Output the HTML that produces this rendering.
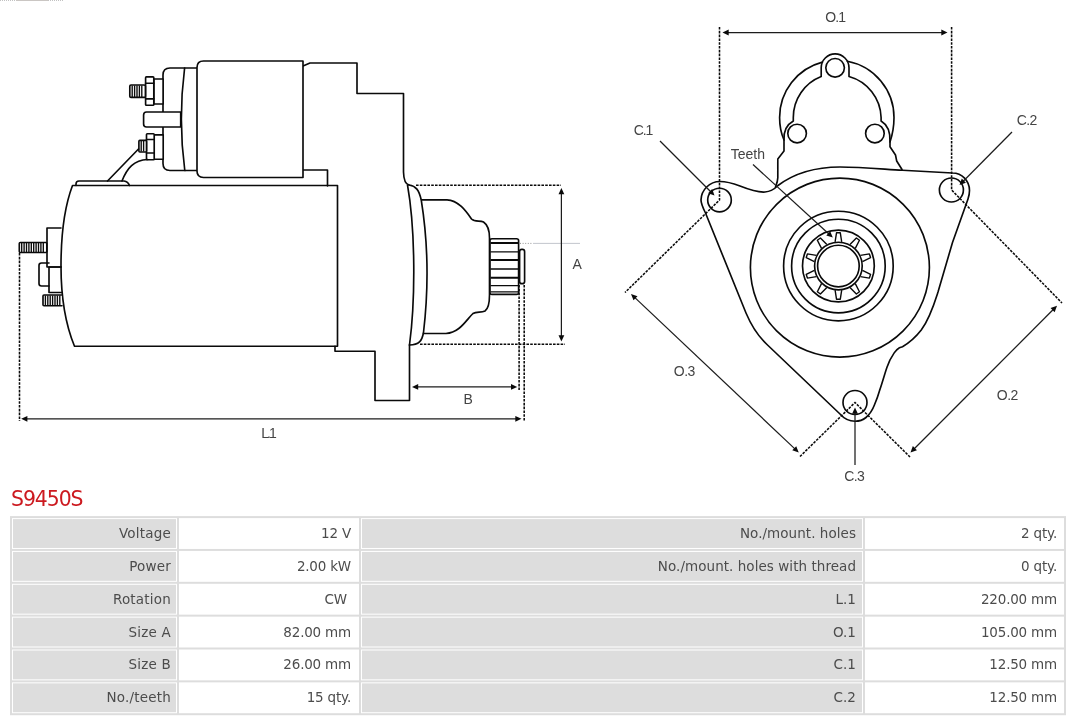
<!DOCTYPE html>
<html lang="en">
<head>
<meta charset="utf-8">
<title>S9450S</title>
<style>
html,body{margin:0;padding:0;background:#fff;}
body{will-change:transform;width:1080px;height:720px;overflow:hidden;position:relative;font-family:"DejaVu Sans","Liberation Sans",sans-serif;}
#drawing{position:absolute;left:0;top:0;width:1080px;height:486px;display:block;}
#drawing text{font-family:"Liberation Sans","DejaVu Sans",sans-serif;font-size:14px;fill:#444;}
h1{position:absolute;left:11px;top:487px;margin:0;font-size:20.4px;line-height:24px;font-weight:normal;color:#cc1a20;letter-spacing:-1.05px;}
table{position:absolute;left:10px;top:516px;transform-origin:0 0;transform:translateY(0.1px) scaleY(0.9955);width:1056px;border-collapse:separate;border-spacing:2px;background:#ddd;table-layout:fixed;font-size:13.5px;color:#4c4c4c;}
td{height:31px;padding:0 0 1px 0;line-height:30px;text-align:right;white-space:nowrap;box-sizing:border-box;overflow:hidden;}
td.l{background:#ddd;border:1px solid #fff;line-height:28px;padding-right:5px;letter-spacing:0.2px;}
td.l2{padding-right:6px;letter-spacing:0.05px;}
td.v{background:#fff;padding-right:8px;letter-spacing:-0.2px;}
td.v2{padding-right:7px;}
</style>
</head>
<body>
<svg id="drawing" width="1080" height="486" viewBox="0 0 1080 486">
<rect width="1080" height="486" fill="#fff"/>
<path d="M0,0.4H16M48,0.4H64" fill="none" stroke="#bbb" stroke-width="1" stroke-dasharray="1 1"/>
<path d="M16,0.4H48" fill="none" stroke="#c4c0bc" stroke-width="1"/>
<g id="side-view">
<path fill="none" stroke="#0a0a0a" stroke-width="1.65" stroke-linejoin="round" stroke-linecap="round" d="M303,66 L310,63 H357 V93.5 H403.5 V172 C403.7,180 405,184 409,185"/>
<path fill="none" stroke="#0a0a0a" stroke-width="1.65" stroke-linejoin="round" stroke-linecap="round" d="M303,170 H327.5 V186"/>
<path fill="none" stroke="#0a0a0a" stroke-width="1.65" stroke-linejoin="round" stroke-linecap="round" d="M197,68 H170 Q163,68 163,75 V163.5 Q163,170.5 170,170.5 H197"/>
<path fill="none" stroke="#0a0a0a" stroke-width="1.65" stroke-linejoin="round" stroke-linecap="round" d="M184.6,68 Q178,119.5 184.8,170.5"/>
<path fill="#fff" stroke="#0a0a0a" stroke-width="1.65" stroke-linejoin="round" stroke-linecap="round" d="M303,61 H203.5 Q197,61 197,67.5 V171 Q197,177.5 203.5,177.5 H303 Z"/>
<path fill="#fff" stroke="#0a0a0a" stroke-width="1.65" stroke-linejoin="round" stroke-linecap="round" d="M180.7,112 H146.5 Q143.6,112 143.6,115 V124 Q143.6,127 146.5,127 H180.7 Z"/>
<rect fill="#fff" stroke="#0a0a0a" stroke-width="1.65" stroke-linejoin="round" stroke-linecap="round" x="153.8" y="79" width="9.3" height="25"/>
<rect fill="#fff" stroke="#0a0a0a" stroke-width="1.65" stroke-linejoin="round" stroke-linecap="round" x="145.6" y="76.9" width="8.2" height="28.3" rx="0.8"/>
<path fill="none" stroke="#0a0a0a" stroke-width="1.65" stroke-linejoin="round" stroke-linecap="round" d="M145.6,83.2 H153.8 M145.6,98.8 H153.8"/>
<rect fill="#fff" stroke="#0a0a0a" stroke-width="1.65" stroke-linejoin="round" stroke-linecap="round" x="129.8" y="85" width="15.6" height="12.4" rx="1.2"/>
<path fill="none" stroke="#0a0a0a" stroke-width="1.35" d="M132.2,85.5V97M134.6,85.5V97M137,85.5V97M139.4,85.5V97M141.8,85.5V97"/>
<rect fill="#fff" stroke="#0a0a0a" stroke-width="1.65" stroke-linejoin="round" stroke-linecap="round" x="154.2" y="134.9" width="9" height="24.4"/>
<rect fill="#fff" stroke="#0a0a0a" stroke-width="1.65" stroke-linejoin="round" stroke-linecap="round" x="146.5" y="133.7" width="7.7" height="26" rx="0.8"/>
<path fill="none" stroke="#0a0a0a" stroke-width="1.65" stroke-linejoin="round" stroke-linecap="round" d="M146.5,139.5 H154.2 M146.5,153 H154.2"/>
<rect fill="#fff" stroke="#0a0a0a" stroke-width="1.65" stroke-linejoin="round" stroke-linecap="round" x="138.9" y="140.4" width="7.6" height="11.6" rx="1"/>
<path fill="none" stroke="#0a0a0a" stroke-width="1.35" d="M141.2,141V151.5M143.6,141V151.5"/>
<path fill="none" stroke="#0a0a0a" stroke-width="1.65" stroke-linejoin="round" stroke-linecap="round" d="M138.5,149 L107.5,181"/>
<path fill="none" stroke="#0a0a0a" stroke-width="1.65" stroke-linejoin="round" stroke-linecap="round" d="M147.5,159.5 C134,160 127,168 122,181"/>
<path fill="none" stroke="#0a0a0a" stroke-width="1.65" stroke-linejoin="round" stroke-linecap="round" d="M76,185.5 V184 Q76,181 79,181 H124 Q128,181.5 129.5,185.5"/>
<path fill="none" stroke="#0a0a0a" stroke-width="1.65" stroke-linejoin="round" stroke-linecap="round" d="M72.5,185.5 H337.5 V346.25 H74.5 C64.5,322 61,295 61,266 C61,237 64,208 72.5,185.5 Z"/>
<path fill="none" stroke="#0a0a0a" stroke-width="1.65" stroke-linejoin="round" stroke-linecap="round" d="M61,228 H47 V267 H61"/>
<rect fill="#fff" stroke="#0a0a0a" stroke-width="1.65" stroke-linejoin="round" stroke-linecap="round" x="19.3" y="242.5" width="27.5" height="10" rx="1"/>
<path fill="none" stroke="#0a0a0a" stroke-width="1.35" d="M21.7,243V252M24.1,243V252M26.5,243V252M28.9,243V252M31.3,243V252M33.7,243V252M36.1,243V252M38.5,243V252M40.9,243V252M43.3,243V252"/>
<path fill="none" stroke="#0a0a0a" stroke-width="1.65" stroke-linejoin="round" stroke-linecap="round" d="M49,263 H41.5 Q39,263 39,265.5 V283.5 Q39,286 41.5,286 H49"/>
<path fill="none" stroke="#0a0a0a" stroke-width="1.65" stroke-linejoin="round" stroke-linecap="round" d="M61,267 H49 V292.5 H62"/>
<path fill="#fff" stroke="#0a0a0a" stroke-width="1.65" stroke-linejoin="round" stroke-linecap="round" d="M61.5,295 H44 Q43,295 43,296 V304.75 Q43,305.75 44,305.75 H62"/>
<path fill="none" stroke="#0a0a0a" stroke-width="1.35" d="M45.4,295.5V305.25M47.8,295.5V305.25M50.2,295.5V305.25M52.6,295.5V305.25M55,295.5V305.25M57.4,295.5V305.25M59.8,295.5V305.25"/>
<path fill="none" stroke="#0a0a0a" stroke-width="1.65" stroke-linejoin="round" stroke-linecap="round" d="M335,346.25 V351.25 H375 V400.5 H409.5 V345"/>
<path fill="none" stroke="#0a0a0a" stroke-width="1.65" stroke-linejoin="round" stroke-linecap="round" d="M407.5,185 C415.5,230 415.5,300 409.5,345"/>
<path fill="none" stroke="#0a0a0a" stroke-width="1.65" stroke-linejoin="round" stroke-linecap="round" d="M409,185 C416,186 419,190 421.25,200 C428.5,245 428.5,290 423.5,332.5 C422,341 419,345 409.5,345"/>
<path fill="none" stroke="#0a0a0a" stroke-width="1.65" stroke-linejoin="round" stroke-linecap="round" d="M421.5,199.8 H447 C458,200 466,211 471.5,219 C475,222.5 480,220 483.5,222 C488,225 489.5,231 489.5,238 V295 C489.5,303 488.5,308.5 485,311 C481,313 476.5,311 473,313.5 C466,320 460,332.5 446,333.5 H423.5"/>
<path fill="#fff" stroke="#0a0a0a" stroke-width="1.65" stroke-linejoin="round" stroke-linecap="round" d="M490,240 Q490,238.75 492,238.75 H516.5 Q518.6,238.75 518.6,240.5 V292.7 Q518.6,294.4 516.5,294.4 H492 Q490,294.4 490,292.7 Z"/>
<path fill="none" stroke="#0a0a0a" stroke-width="1.4" d="M490.5,251.9H518M490.5,269H518M490.5,285.6H518M490.5,291.9H518"/>
<path fill="none" stroke="#0a0a0a" stroke-width="2.1" d="M490.5,243H518M490.5,260H518M490.5,277.75H518"/>
<rect fill="#fff" stroke="#0a0a0a" stroke-width="1.65" stroke-linejoin="round" stroke-linecap="round" x="519.6" y="249.4" width="5" height="34.3" rx="2.3"/>
<path fill="none" stroke="#0a0a0a" stroke-width="1.55" stroke-dasharray="2.6 1.2" d="M416,185.2 H561"/>
<path fill="none" stroke="#0a0a0a" stroke-width="1.55" stroke-dasharray="2.6 1.2" d="M420,344.25 H565"/>
<path fill="none" stroke="#0a0a0a" stroke-width="1.55" stroke-dasharray="2.6 1.2" d="M519.1,285 V390"/>
<path fill="none" stroke="#0a0a0a" stroke-width="1.55" stroke-dasharray="2.6 1.2" d="M524.2,285 V421"/>
<path fill="none" stroke="#0a0a0a" stroke-width="1.55" stroke-dasharray="2.6 1.2" d="M19.5,253 V421"/>
<path d="M520,243.4H533" fill="none" stroke="#777" stroke-width="0.8" stroke-dasharray="1 1.6"/>
<path d="M533,243.4H580" fill="none" stroke="#b4b8c0" stroke-width="0.8"/>
<line x1="561.4" y1="192.96" x2="561.4" y2="336.54" stroke="#1c1c1c" stroke-width="1.25"/><path d="M561.4,341.5L558.5,335.3L564.3,335.3Z" fill="#0a0a0a"/><path d="M561.4,188L558.5,194.2L564.3,194.2Z" fill="#0a0a0a"/>
<line x1="416.96" y1="386.9" x2="512.24" y2="386.9" stroke="#1c1c1c" stroke-width="1.25"/><path d="M517.2,386.9L511,389.8L511,384Z" fill="#0a0a0a"/><path d="M412,386.9L418.2,389.8L418.2,384Z" fill="#0a0a0a"/>
<line x1="26.16" y1="418.8" x2="516.54" y2="418.8" stroke="#1c1c1c" stroke-width="1.25"/><path d="M521.5,418.8L515.3,421.7L515.3,415.9Z" fill="#0a0a0a"/><path d="M21.2,418.8L27.4,421.7L27.4,415.9Z" fill="#0a0a0a"/>
<text x="577.2" y="268.7" text-anchor="middle">A</text>
<text x="468.2" y="404.2" text-anchor="middle">B</text>
<text x="261.2" y="438.3" letter-spacing="-1.9">L.1</text>
</g>
<g id="front-view">
<path fill="none" stroke="#0a0a0a" stroke-width="1.65" stroke-linejoin="round" stroke-linecap="round" d="M775.5,187 C777,183 777.8,181 777.8,177.8 V159 L784,151 V140 C780.5,132 779.6,125 779.6,117.5 A57.2,57.2 0 0 1 822.4,62.15 M847.4,61.3 A57.2,57.2 0 0 1 894,117.5 C894,126 893,133 890,142 V146.7 L895.5,155 L896.7,161 L902,169.5"/>
<path fill="none" stroke="#0a0a0a" stroke-width="1.65" stroke-linejoin="round" stroke-linecap="round" d="M784,140 C783.5,131 787,124.5 793.3,121 V117.5 A43.9,43.9 0 0 1 821.2,76.5 V67.8 A13.9,13.9 0 0 1 849,67.8 V76.5 A43.9,43.9 0 0 1 881.1,117.5 V121 C887,124.5 890.5,131 890,142"/>
<circle fill="none" stroke="#0a0a0a" stroke-width="1.65" stroke-linejoin="round" stroke-linecap="round" cx="835.1" cy="67.8" r="9.3"/>
<circle fill="none" stroke="#0a0a0a" stroke-width="1.65" stroke-linejoin="round" stroke-linecap="round" cx="797.1" cy="133.5" r="9.3"/>
<circle fill="none" stroke="#0a0a0a" stroke-width="1.65" stroke-linejoin="round" stroke-linecap="round" cx="874.9" cy="133.5" r="9.3"/>
<path fill="none" stroke="#0a0a0a" stroke-width="1.65" stroke-linejoin="round" stroke-linecap="round" d="M720,181.5 C727,181.5 732,183 740,186 C750,190 758,192.5 765,192 C771,191.5 775,188.5 778,185.5 C796,172 818,167 840,167 C862,167 884,169.2 902.5,170.2 L952.5,173 C962,173 969.5,181 969.5,190.5 C969.5,194 969,196 968,199 L952.5,242.5 L938,292 C934.5,303 930,318 921.25,330 C915,338 908,343.5 902.5,346.7 L899.4,347.7 C897,349 895.5,351 894.2,352.9 C891,357.5 888.5,362.5 886.9,367.5 C884,376 882,384 879.6,390.4 C878,396 876.5,400 874.4,405 C872.5,410 869.5,414.5 866,417.5 C863,420 859,421.25 855,421.25 C849,421.25 844,418.5 840,414 L767,344.5 C759,337 751.5,326 746,313 L705.5,213 C702.5,207 701,204 701,200 C701.2,190 709.5,181.5 720,181.5 Z"/>
<circle fill="none" stroke="#0a0a0a" stroke-width="1.65" stroke-linejoin="round" stroke-linecap="round" cx="719.5" cy="200" r="11.8"/>
<circle fill="none" stroke="#0a0a0a" stroke-width="1.65" stroke-linejoin="round" stroke-linecap="round" cx="951.4" cy="190" r="12"/>
<circle fill="none" stroke="#0a0a0a" stroke-width="1.65" stroke-linejoin="round" stroke-linecap="round" cx="855" cy="402.5" r="12"/>
<circle fill="none" stroke="#0a0a0a" stroke-width="1.65" stroke-linejoin="round" stroke-linecap="round" cx="839.9" cy="267.6" r="89.5"/>
<circle fill="none" stroke="#0a0a0a" stroke-width="1.65" stroke-linejoin="round" stroke-linecap="round" cx="838.4" cy="266.0" r="54.8"/>
<circle fill="none" stroke="#0a0a0a" stroke-width="1.65" stroke-linejoin="round" stroke-linecap="round" cx="838.4" cy="266.0" r="46.8"/>
<circle fill="none" stroke="#0a0a0a" stroke-width="1.65" stroke-linejoin="round" stroke-linecap="round" cx="838.4" cy="266.0" r="35.9"/>
<circle fill="none" stroke="#0a0a0a" stroke-width="1.65" stroke-linejoin="round" stroke-linecap="round" cx="838.4" cy="266.0" r="23.8"/>
<circle fill="none" stroke="#0a0a0a" stroke-width="1.65" stroke-linejoin="round" stroke-linecap="round" cx="838.4" cy="266.0" r="20.8"/>
<path fill="none" stroke="#0a0a0a" stroke-width="1.4" stroke-linejoin="round" d="M841.7,241.8L840.3,232.8L836.5,232.8L835.1,241.8M855.29,248.36L859.45,240.26L856.38,238.02L849.95,244.48M862.44,261.66L870.56,257.55L869.39,253.93L860.4,255.38M860.4,276.62L869.39,278.07L870.56,274.45L862.44,270.34M849.95,287.52L856.38,293.98L859.45,291.74L855.29,283.64M835.1,290.2L836.5,299.2L840.3,299.2L841.7,290.2M821.51,283.64L817.35,291.74L820.42,293.98L826.85,287.52M814.36,270.34L806.24,274.45L807.41,278.07L816.4,276.62M816.4,255.38L807.41,253.93L806.24,257.55L814.36,261.66M826.85,244.48L820.42,238.02L817.35,240.26L821.51,248.36"/>
<path fill="none" stroke="#0a0a0a" stroke-width="1.55" stroke-dasharray="2.6 1.2" d="M719.5,27 V200 L625,292.5"/>
<path fill="none" stroke="#0a0a0a" stroke-width="1.55" stroke-dasharray="2.6 1.2" d="M951.6,27 V190 L1062,303"/>
<path fill="none" stroke="#0a0a0a" stroke-width="1.55" stroke-dasharray="2.6 1.2" d="M800,456.5 L855,402.5 L910,457"/>
<line x1="727.46" y1="32.5" x2="942.54" y2="32.5" stroke="#1c1c1c" stroke-width="1.25"/><path d="M947.5,32.5L941.3,35.4L941.3,29.6Z" fill="#0a0a0a"/><path d="M722.5,32.5L728.7,35.4L728.7,29.6Z" fill="#0a0a0a"/>
<line x1="634.61" y1="297.41" x2="795.14" y2="449.09" stroke="#1c1c1c" stroke-width="1.25"/><path d="M798.75,452.5L792.25,450.35L796.24,446.13Z" fill="#0a0a0a"/><path d="M631,294L633.51,300.37L637.5,296.15Z" fill="#0a0a0a"/>
<line x1="914" y1="448.99" x2="1053.5" y2="309.26" stroke="#1c1c1c" stroke-width="1.25"/><path d="M1057,305.75L1054.67,312.19L1050.57,308.09Z" fill="#0a0a0a"/><path d="M910.5,452.5L916.93,450.16L912.83,446.06Z" fill="#0a0a0a"/>
<line x1="660" y1="141" x2="710.99" y2="191.99" stroke="#1c1c1c" stroke-width="1.25"/><path d="M714.5,195.5L708.07,193.17L712.17,189.07Z" fill="#0a0a0a"/>
<line x1="1012" y1="132" x2="962.99" y2="181.48" stroke="#1c1c1c" stroke-width="1.25"/><path d="M959.5,185L961.8,178.55L965.92,182.64Z" fill="#0a0a0a"/>
<line x1="753" y1="164.5" x2="829.14" y2="234.25" stroke="#1c1c1c" stroke-width="1.25"/><path d="M832.8,237.6L826.27,235.55L830.19,231.27Z" fill="#0a0a0a"/>
<line x1="855" y1="465" x2="855" y2="412.46" stroke="#1c1c1c" stroke-width="1.25"/><path d="M855,407.5L857.9,413.7L852.1,413.7Z" fill="#0a0a0a"/>
<text x="825.2" y="22.2" letter-spacing="-0.9">O.1</text>
<text x="633.8" y="134.8" letter-spacing="-1.1">C.1</text>
<text x="1016.8" y="124.8" letter-spacing="-0.6">C.2</text>
<text x="730.8" y="159.2">Teeth</text>
<text x="673.8" y="375.8" letter-spacing="-0.5">O.3</text>
<text x="996.8" y="400.2" letter-spacing="-0.5">O.2</text>
<text x="844.3" y="480.8" letter-spacing="-0.7">C.3</text>
</g>
</svg>
<h1>S9450S</h1>
<table>
<colgroup><col style="width:165px"><col style="width:180px"><col style="width:502px"><col style="width:199px"></colgroup>
<tr><td class="l">Voltage</td><td class="v">12 V</td><td class="l l2">No./mount. holes</td><td class="v v2">2 qty.</td></tr>
<tr><td class="l">Power</td><td class="v">2.00 kW</td><td class="l l2">No./mount. holes with thread</td><td class="v v2">0 qty.</td></tr>
<tr><td class="l">Rotation</td><td class="v">CW&nbsp;</td><td class="l l2">L.1</td><td class="v v2">220.00 mm</td></tr>
<tr><td class="l">Size A</td><td class="v">82.00 mm</td><td class="l l2">O.1</td><td class="v v2">105.00 mm</td></tr>
<tr><td class="l">Size B</td><td class="v">26.00 mm</td><td class="l l2">C.1</td><td class="v v2">12.50 mm</td></tr>
<tr><td class="l">No./teeth</td><td class="v">15 qty.</td><td class="l l2">C.2</td><td class="v v2">12.50 mm</td></tr>
</table>
</body>
</html>
